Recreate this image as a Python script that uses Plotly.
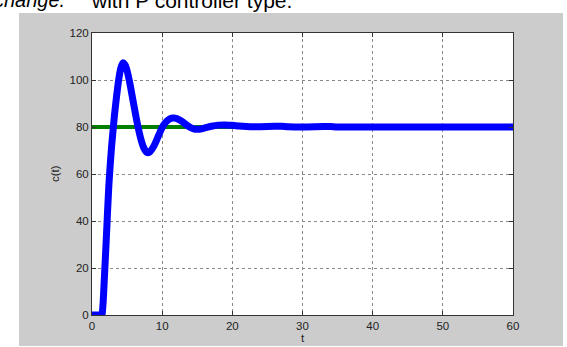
import plotly.graph_objects as go

# ---- data ----
t_values = [0, 0.5, 1.0, 1.4, 1.5, 1.6, 1.7, 1.8, 2.0, 2.2, 2.4, 2.6, 2.8, 3.0, 3.2, 3.5,
            3.8, 4.1, 4.4, 4.7, 5.0, 5.4, 5.8, 6.2, 6.6, 7.0, 7.4, 7.8, 8.2, 8.6,
            9.0, 9.5, 10.0, 10.5, 11.0, 11.5, 12.0, 12.5, 13.0, 13.5, 14.0, 14.5,
            15.0, 15.5, 16.0, 17.0, 18.0, 19.0, 20.0, 21.0, 22.0, 23.0, 24.0,
            26.0, 27.0, 28.0, 30.0, 33.0, 34.0, 35.0, 40.0, 45.0, 50.0, 55.0, 60.0]
c_values = [0, 0, 0, 0, 2, 6, 12, 18, 30, 43, 55, 64, 72, 78.5, 85, 93,
            100, 105, 107.3, 106.5, 104, 98.5, 92, 85.5, 79.5, 74.5, 71, 69.2, 69.3, 70.8,
            73, 76.5, 79.8, 82, 83.3, 83.8, 83.7, 83, 82, 80.8, 79.8, 79.2,
            79.0, 79.1, 79.5, 80.3, 80.8, 80.9, 80.7, 80.4, 80.2, 80.1, 80.1,
            80.3, 80.3, 80.1, 80.0, 80.2, 80.2, 80.0, 80.0, 80.0, 80.0, 80.0, 80.0]
setpoint_t = [0, 60]
setpoint_c = [80, 80]

x_ticks = [0, 10, 20, 30, 40, 50, 60]
y_ticks = [0, 20, 40, 60, 80, 100, 120]
x_title = "t"
y_title = "c(t)"
header_left = "change."
header_right = "with P controller type."

# ---- layout geometry (pixels) ----
W, H = 567, 347
L, R, T, B = 92, 513, 33, 315
pw, ph = R - L, B - T


def px_x(p):
    return (p - L) / pw


def px_y(p):
    return (B - p) / ph


FONT = "Liberation Sans, Arial, sans-serif"
TXT = "#222222"

fig = go.Figure()
fig.add_trace(go.Scatter(x=setpoint_t, y=setpoint_c, mode="lines",
                         line=dict(color="#008000", width=4), showlegend=False,
                         hoverinfo="skip"))
fig.add_trace(go.Scatter(x=t_values, y=c_values, mode="lines",
                         line=dict(color="#0000ff", width=7, shape="spline", smoothing=0.6),
                         showlegend=False, hoverinfo="skip"))

axis_common = dict(
    showline=True, linecolor="#333333", linewidth=1, mirror="ticks",
    ticks="inside", ticklen=4, tickcolor="#333333",
    showgrid=True, gridcolor="#8a8a8a", griddash="dot", gridwidth=1,
    zeroline=False, automargin=False,
    tickfont=dict(family=FONT, size=11.5, color=TXT),
)

fig.update_xaxes(range=[0, 60], tickvals=x_ticks, ticktext=[str(v) for v in x_ticks],
                 **axis_common)
fig.update_yaxes(range=[0, 120], tickvals=y_ticks, ticktext=[str(v) for v in y_ticks],
                 **axis_common)

fig.update_layout(
    width=W, height=H,
    margin=dict(l=L, r=W - R, t=T, b=H - B, pad=0, autoexpand=False),
    paper_bgcolor="white", plot_bgcolor="white",
    shapes=[
        dict(type="rect", xref="paper", yref="paper", layer="below",
             x0=px_x(19), x1=px_x(563), y0=px_y(346), y1=px_y(13),
             fillcolor="#cccccc", line=dict(width=0)),
        dict(type="rect", xref="paper", yref="paper", layer="below",
             x0=0, x1=1, y0=0, y1=1,
             fillcolor="white", line=dict(width=0)),
    ],
    annotations=[
        dict(text="<i>" + header_left + "</i>", xref="paper", yref="paper",
             x=px_x(67), y=px_y(0), xanchor="right", yanchor="middle",
             showarrow=False, font=dict(family=FONT, size=20, color="black")),
        dict(text=header_right, xref="paper", yref="paper",
             x=px_x(89), y=px_y(0), xanchor="left", yanchor="middle",
             showarrow=False, font=dict(family=FONT, size=21, color="black")),
        dict(text=x_title, xref="paper", yref="paper",
             x=px_x(302.5), y=px_y(338), xanchor="center", yanchor="middle",
             showarrow=False, font=dict(family=FONT, size=11.5, color=TXT)),
        dict(text=y_title, xref="paper", yref="paper", textangle=-90,
             x=px_x(55), y=px_y(174), xanchor="center", yanchor="middle",
             showarrow=False, font=dict(family=FONT, size=11.5, color=TXT)),
    ],
)

fig.write_html("out.html", config={"displayModeBar": False},
               post_script="document.body.style.margin='0';")
